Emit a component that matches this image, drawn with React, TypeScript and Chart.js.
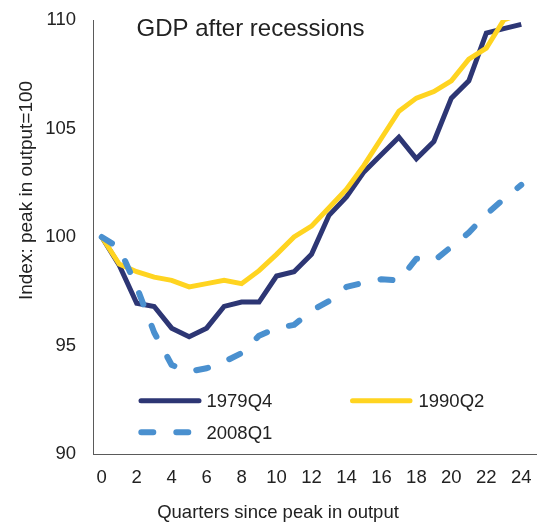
import React, { useEffect, useRef } from 'react';
import { Chart, registerables } from 'chart.js';

Chart.register(...registerables);

const quarters = [0, 1, 2, 3, 4, 5, 6, 7, 8, 9, 10, 11, 12, 13, 14, 15, 16, 17, 18, 19, 20, 21, 22, 23, 24];
const series1979Q4 = [100, 98.7, 96.95, 96.8, 95.8, 95.4, 95.8, 96.8, 97.0, 97.0, 98.2, 98.4, 99.2, 101.0, 101.85, 103.0, 103.8, 104.6, 103.6, 104.4, 106.4, 107.2, 109.4, 109.6, 109.8];
const series1990Q2 = [100, 98.75, 98.4, 98.15, 98.0, 97.7, 97.85, 98.0, 97.85, 98.45, 99.2, 100.0, 100.5, 101.35, 102.2, 103.3, 104.55, 105.8, 106.4, 106.7, 107.2, 108.2, 108.7, 110.0, 110.3];
const series2008Q1 = [100, 99.5, 97.7, 95.6, 94.1, 93.8, 93.95, 94.25, 94.65, 95.45, 95.8, 95.95, 96.6, 97.05, 97.7, 97.9, 98.05, 98.0, 99.0, 98.9, 99.55, 100.2, 101.05, 101.75, 102.4];
const seriesNames = ['1979Q4', '1990Q2', '2008Q1'];
const xTickValues = [0, 2, 4, 6, 8, 10, 12, 14, 16, 18, 20, 22, 24];
const yTickValues = [90, 95, 100, 105, 110];
const chartTitle = 'GDP after recessions';
const xAxisTitle = 'Quarters since peak in output';
const yAxisTitle = 'Index: peak in output=100';

const FONT = '"Liberation Sans", Arial, Helvetica, sans-serif';
const TEXT = '#222222';
const NAVY = '#2D3674';
const YELLOW = '#FFD420';
const BLUE = '#4A90CF';

const toPoints = (vals: number[]) => quarters.map((q, i) => ({ x: q, y: vals[i] }));

const zeroPadding = (scale: any) => {
  scale.paddingTop = 0;
  scale.paddingBottom = 0;
  scale.paddingLeft = 0;
  scale.paddingRight = 0;
};

const overlayPlugin = {
  id: 'overlayText',
  afterDraw(chart: any) {
    const ctx = chart.ctx as CanvasRenderingContext2D;
    ctx.save();
    ctx.fillStyle = TEXT;
    ctx.textBaseline = 'alphabetic';

    // Title inside plot
    ctx.font = `24px ${FONT}`;
    ctx.textAlign = 'left';
    ctx.fillText(chartTitle, 136.5, 36);

    // X axis title
    ctx.font = `18.5px ${FONT}`;
    ctx.textAlign = 'center';
    ctx.fillText(xAxisTitle, 278, 518);

    // Y axis title
    ctx.save();
    ctx.translate(31.5, 190.5);
    ctx.rotate(-Math.PI / 2);
    ctx.font = `19px ${FONT}`;
    ctx.textAlign = 'center';
    ctx.fillText(yAxisTitle, 0, 0);
    ctx.restore();

    // Legend
    const items = [
      { ds: 0, x1: 141, x2: 199, y: 400.7, tx: 206.5, ty: 407.3 },
      { ds: 1, x1: 352.5, x2: 410, y: 400.7, tx: 418.5, ty: 407.3 },
      { ds: 2, x1: 141.3, x2: 190.3, y: 432.3, tx: 206.5, ty: 439 },
    ];
    items.forEach((it) => {
      const ds = chart.data.datasets[it.ds];
      ctx.save();
      ctx.strokeStyle = ds.borderColor;
      ctx.lineWidth = ds.borderWidth;
      ctx.lineCap = 'round';
      ctx.setLineDash(ds.borderDash || []);
      ctx.beginPath();
      ctx.moveTo(it.x1, it.y);
      ctx.lineTo(it.x2, it.y);
      ctx.stroke();
      ctx.restore();
      ctx.font = `18.5px ${FONT}`;
      ctx.textAlign = 'left';
      ctx.fillStyle = TEXT;
      ctx.fillText(ds.label, it.tx, it.ty);
    });
    ctx.restore();
  },
};

export default function App() {
  const canvasRef = useRef<HTMLCanvasElement | null>(null);

  useEffect(() => {
    const canvas = canvasRef.current;
    if (!canvas) return;
    const chart = new Chart(canvas, {
      type: 'line',
      data: {
        datasets: [
          {
            label: seriesNames[0],
            data: toPoints(series1979Q4),
            borderColor: NAVY,
            backgroundColor: NAVY,
            borderWidth: 5,
            pointRadius: 0,
            tension: 0,
            order: 3,
          },
          {
            label: seriesNames[1],
            data: toPoints(series1990Q2),
            borderColor: YELLOW,
            backgroundColor: YELLOW,
            borderWidth: 5,
            pointRadius: 0,
            tension: 0,
            order: 2,
          },
          {
            label: seriesNames[2],
            data: toPoints(series2008Q1),
            borderColor: BLUE,
            backgroundColor: BLUE,
            borderWidth: 6,
            borderDash: [12, 23],
            borderCapStyle: 'round',
            borderJoinStyle: 'round',
            pointRadius: 0,
            tension: 0,
            order: 1,
          },
        ],
      },
      options: {
        animation: false,
        responsive: false,
        devicePixelRatio: 1,
        layout: { padding: { top: 20, left: 0, right: 0, bottom: 0 } },
        plugins: {
          legend: { display: false },
          title: { display: false },
          tooltip: { enabled: false },
        },
        scales: {
          x: {
            type: 'linear',
            min: -0.5,
            max: 24.9,
            afterBuildTicks: (scale: any) => {
              scale.ticks = xTickValues.map((v) => ({ value: v }));
            },
            afterFit: (scale: any) => {
              scale.height = 70;
              zeroPadding(scale);
            },
            grid: { display: false, drawTicks: false },
            border: { display: true, color: '#5a5a5a', width: 1 },
            ticks: {
              padding: 13,
              maxRotation: 0,
              autoSkip: false,
              color: TEXT,
              font: { family: FONT, size: 18.5 },
            },
          },
          y: {
            type: 'linear',
            min: 90,
            max: 110,
            afterBuildTicks: (scale: any) => {
              scale.ticks = yTickValues.map((v) => ({ value: v }));
            },
            afterFit: (scale: any) => {
              scale.width = 93;
              zeroPadding(scale);
            },
            grid: { display: false, drawTicks: false },
            border: { display: true, color: '#5a5a5a', width: 1 },
            ticks: {
              padding: 17,
              color: TEXT,
              font: { family: FONT, size: 18.5 },
            },
          },
        },
      },
      plugins: [overlayPlugin],
    } as any);
    return () => chart.destroy();
  }, []);

  return (
    <div style={{ position: 'fixed', left: 0, top: 0, width: 537, height: 524, background: '#fff' }}>
      <canvas ref={canvasRef} width={537} height={524} style={{ display: 'block', width: 537, height: 524 }} />
    </div>
  );
}
